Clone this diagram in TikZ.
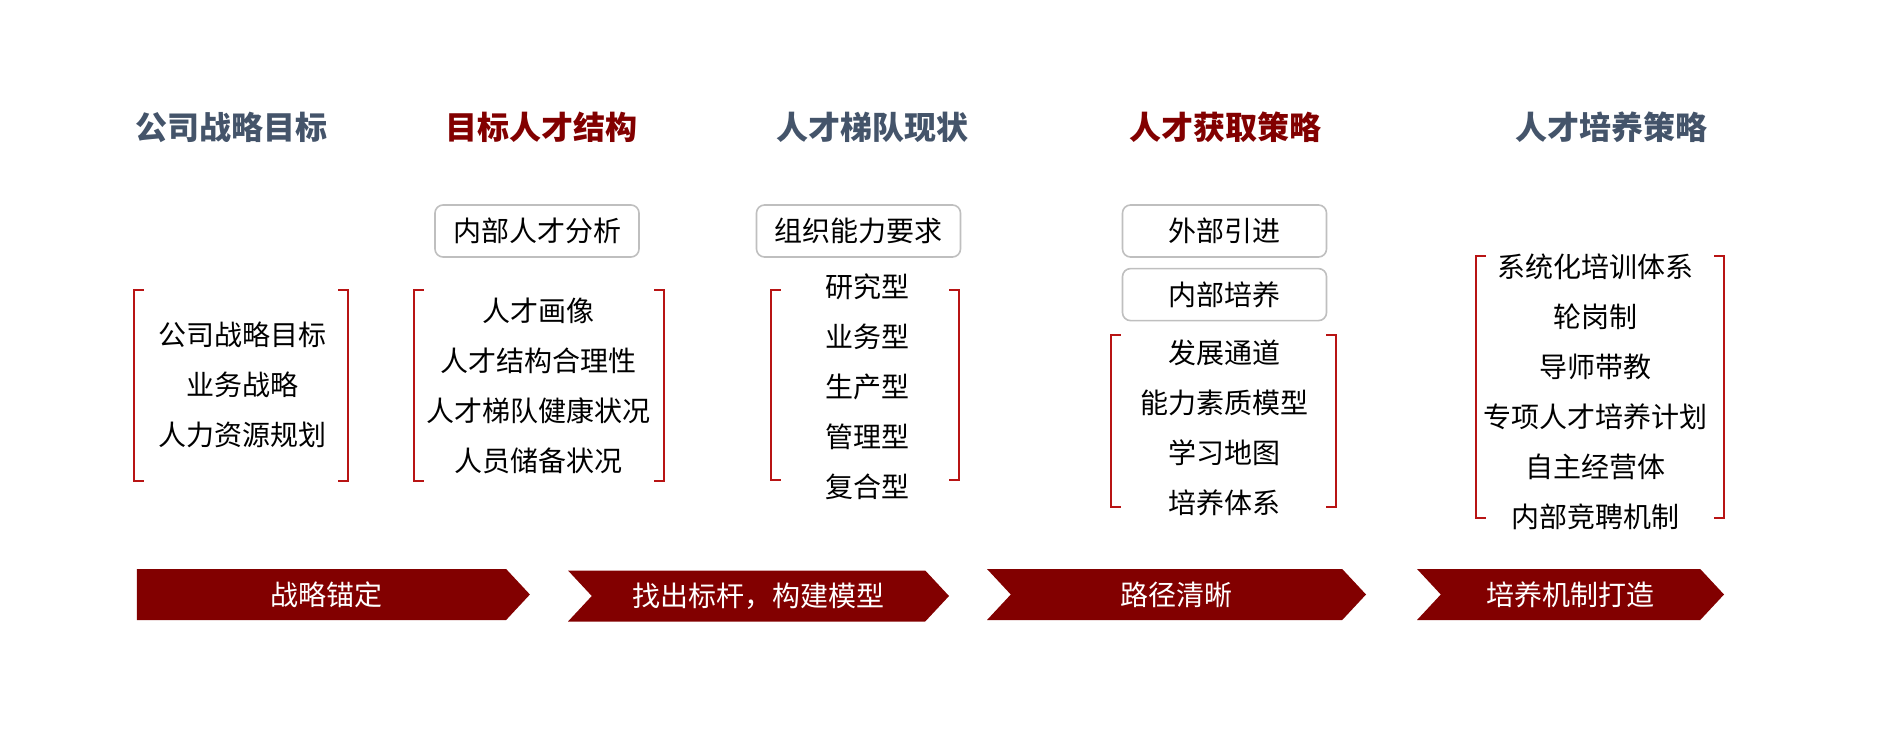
\documentclass[tikz,border=0pt]{standalone}
\usepackage{fontspec}
\setmainfont{Noto Sans CJK SC}
\usetikzlibrary{positioning,shapes.symbols,calc}
\definecolor{hrred}{HTML}{820000}
\definecolor{hrbracket}{HTML}{B81414}
\definecolor{hrslate}{HTML}{44546A}
\definecolor{hrgrey}{HTML}{BFBFBF}
\tikzset{
  font=\fontsize{14}{25}\selectfont,
  head/.style={font=\fontsize{16}{20}\selectfont\bfseries,text=hrslate,inner sep=0pt},
  headred/.style={head,text=hrred},
  tag/.style={draw=hrgrey,line width=0.8pt,rounded corners=4pt,
              minimum width=102pt,minimum height=26pt,inner sep=0pt},
  items/.style={align=center,inner sep=0pt},
  zone/.style={inner sep=0pt},
  bracket/.style={draw=hrbracket,line width=1pt},
  chev/.style={signal,signal from=west,signal to=east,signal pointer angle=94,
               fill=hrred,text=white,minimum height=25.5pt,inner sep=0pt},
  chevfirst/.style={chev,signal from=nowhere},
}
% square brackets on both sides of a zone node
\newcommand{\brackets}[1]{%
  \draw[bracket] ($(#1.north west)+(10,0)$) -- (#1.north west) -- (#1.south west) -- ++(10,0);
  \draw[bracket] ($(#1.north east)+(-10,0)$) -- (#1.north east) -- (#1.south east) -- ++(-10,0);
}

\begin{document}
\begin{tikzpicture}[x=0.5pt,y=-0.5pt]
  \useasboundingbox (0,0) rectangle (1894,754);

  % column heads
  \node[head]    (t1) at (231,127)  {公司战略目标};
  \node[headred] (t2) at (541,127)  {目标人才结构};
  \node[head]    (t3) at (872,127)  {人才梯队现状};
  \node[headred] (t4) at (1225,127) {人才获取策略};
  \node[head]    (t5) at (1611,127) {人才培养策略};

  % grey tags
  \node[tag] (g2)  at (537,231)    {内部人才分析};
  \node[tag] (g3)  at (858.5,231)  {组织能力要求};
  \node[tag] (g4a) at (1224.5,231) {外部引进};
  \node[tag,below=5pt of g4a] (g4b) {内部培养};

  % bracketed lists
  \node[zone,minimum width=107pt,minimum height=95.5pt] (b1) at (241,385.5) {};
  \node[zone,minimum width=125pt,minimum height=95.5pt] (b2) at (539,385.5) {};
  \node[zone,minimum width=94pt,minimum height=95pt]    (b3) at (865,385)   {};
  \node[zone,minimum width=112.5pt,minimum height=86pt] (b4) at (1223.5,421) {};
  \node[zone,minimum width=124pt,minimum height=131pt]  (b5) at (1600,387)  {};
  \brackets{b1}
  \brackets{b2}
  \brackets{b3}
  \brackets{b4}
  \brackets{b5}

  \node[items] (l1) at (242,385)  {公司战略目标\\业务战略\\人力资源规划};
  \node[items] (l2) at (538,385.5) {人才画像\\人才结构合理性\\人才梯队健康状况\\人员储备状况};
  \node[items] (l3) at (867,387)  {研究型\\业务型\\生产型\\管理型\\复合型};
  \node[items] (l4) at (1224,428) {发展通道\\能力素质模型\\学习地图\\培养体系};
  \node[items] (l5) at (1595,392) {系统化培训体系\\轮岗制\\导师带教\\专项人才培养计划\\自主经营体\\内部竞聘机制};

  % process chevrons
  \node[chevfirst,minimum width=196.5pt] (c1) at (321.5,594.5) {\hspace*{5pt}战略锚定};
  \node[chev,minimum width=190.5pt]      (c2) at (758.5,596)   {找出标杆，构建模型};
  \node[chev,minimum width=189.5pt]      (c3) at (1176.5,594.5) {路径清晰};
  \node[chev,minimum width=153.5pt]      (c4) at (1570.5,594.5) {培养机制打造};
\end{tikzpicture}
\end{document}
